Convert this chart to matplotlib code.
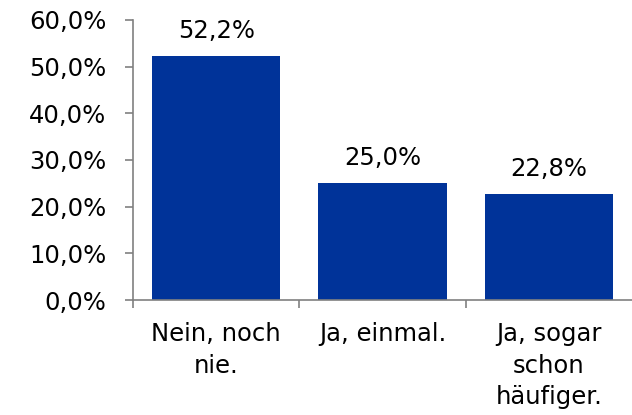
import numpy as np
import matplotlib.pyplot as plt

categories = ["Nein, noch\nnie.", "Ja, einmal.", "Ja, sogar\nschon\nhäufiger."]
values = [52.2, 25.0, 22.8]
yticks = [0, 10, 20, 30, 40, 50, 60]

bar_color = "#003399"
axis_color = "#808080"
fs = 17.5

fig = plt.figure(figsize=(6.32, 4.15), dpi=100)
ax = fig.add_axes([133 / 632, (415 - 300) / 415, (632 - 133) / 632, 280 / 415])

x = np.arange(len(categories))
ax.bar(x, values, width=0.77, color=bar_color)
for xi, v in zip(x, values):
    ax.annotate(f"{v:.1f}%".replace(".", ","), (xi, v), xytext=(0, 13),
                textcoords="offset points", ha="center", va="baseline", fontsize=fs)

ax.set_xlim(-0.5, 2.5)
ax.set_ylim(0, 60)
ax.set_yticks(yticks)
ax.set_yticklabels([f"{t:.1f}%".replace(".", ",") for t in yticks], fontsize=fs)
ax.set_xticks(x)
ax.set_xticklabels(categories, fontsize=fs, linespacing=1.4)
ax.set_xticks([-0.5, 0.5, 1.5], minor=True)

ax.tick_params(axis="x", which="major", length=0, pad=16)
ax.tick_params(axis="x", which="minor", length=6, color=axis_color, width=1.2)
ax.tick_params(axis="y", length=6, color=axis_color, width=1.2, pad=13)

for s in ["top", "right"]:
    ax.spines[s].set_visible(False)
for s in ["left", "bottom"]:
    ax.spines[s].set_color(axis_color)
    ax.spines[s].set_linewidth(1.2)

fig.savefig("out.png", dpi=100)
